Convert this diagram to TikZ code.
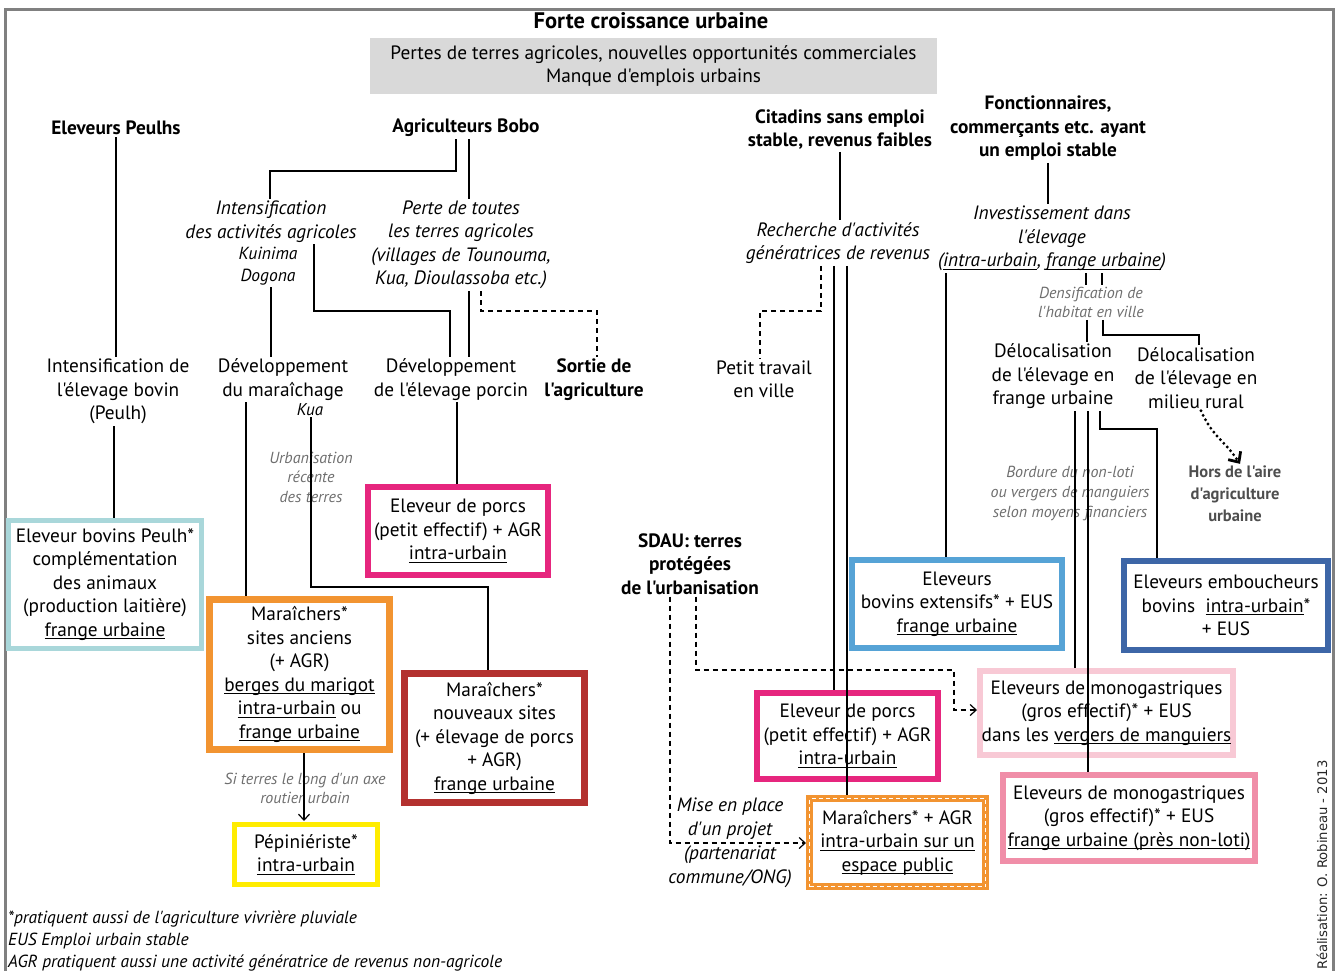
\documentclass[tikz,border=0pt]{standalone}
\usepackage{fontspec}
\defaultfontfeatures[\rmfamily]{}
\setmainfont{PT Sans}
\newfontfamily\credfont{DejaVu Sans}
\usetikzlibrary{arrows.meta,calc}
\definecolor{framegray}{HTML}{808080}
\definecolor{boxgray}{HTML}{D9D9D9}
\definecolor{notegray}{HTML}{6E6E6E}
\definecolor{horsgray}{HTML}{4E4E4E}
\definecolor{cteal}{HTML}{A9D7DA}
\definecolor{cmag}{HTML}{E6267E}
\definecolor{corange}{HTML}{F29431}
\definecolor{cdred}{HTML}{B3312F}
\definecolor{cyel}{HTML}{FFEC00}
\definecolor{clblue}{HTML}{56A3D6}
\definecolor{cdblue}{HTML}{3D66A7}
\definecolor{clpink}{HTML}{F8C9D5}
\definecolor{cpink}{HTML}{F08EA8}
\newcommand{\myul}[1]{\leavevmode\setbox0\hbox{#1}\rlap{\rule[-2.8pt]{\wd0}{0.9pt}}\box0\relax}
\tikzset{
  tx/.style={align=center, inner sep=2pt, font=\fontsize{19.3}{23.5}\selectfont},
  tb/.style={tx, font=\fontsize{19.3}{23.5}\selectfont\bfseries},
  ti/.style={tx, font=\fontsize{19.3}{23.5}\selectfont\itshape},
  tn/.style={tx, text=notegray, font=\fontsize{16}{19.5}\selectfont\itshape},
  bx/.style={draw, align=center, inner sep=0pt, line width=6pt, font=\fontsize{19.3}{23.5}\selectfont},
  ln/.style={line width=1.2pt},
  dln/.style={ln, dash pattern=on 5pt off 4pt},
  barb/.style={-{Straight Barb[length=6pt,width=11pt,line width=1.2pt]}}
}
\begin{document}
\begin{tikzpicture}[x=1pt,y=-1pt]
\useasboundingbox (0,0) rectangle (1336,970);
% frame
\draw[framegray, line width=3pt] (5,975) -- (5,9) -- (1333,9) -- (1333,975);

% top
\node[tx, font=\fontsize{22.5}{26}\selectfont\bfseries] (title) at (651,21) {Forte croissance urbaine};
\node[tx, fill=boxgray, minimum width=567, minimum height=56] (gbox) at (653.5,66) {Pertes de terres agricoles, nouvelles opportunités commerciales\\Manque d'emplois urbains};

% headers
\node[tb] (peulhs) at (116,128) {Eleveurs Peulhs};
\node[tb] (bobo) at (466,128) {Agriculteurs Bobo};
\node[tb] (citadins) at (840,129.5) {Citadins sans emploi\\stable, revenus faibles};
\node[tb] (fonct) at (1048,128.5) {Fonctionnaires,\\commerçants etc. ayant\\un emploi stable};

% second level
\node[ti] (intens) at (271,221.5) {Intensification\\des activités agricoles};
\node[ti, font=\fontsize{17.5}{22}\selectfont\itshape] (kuinima) at (268,266) {Kuinima\\Dogona};
\node[ti] (perte) at (461,245) {Perte de toutes\\les terres agricoles\\(villages de Tounouma,\\Kua, Dioulassoba etc.)};
\node[ti] (recherche) at (838,243) {Recherche d'activités\\génératrices de revenus};
\node[ti] (invest) at (1052,238.5) {Investissement dans\\l'élevage\\(\myul{intra-urbain}, \myul{frange urbaine})};
\node[tn, font=\fontsize{16}{19}\selectfont\itshape] (densif) at (1091,302.5) {Densification de\\l'habitat en ville};

% third level
\node[tx] (intbov) at (118,391.5) {Intensification de\\l'élevage bovin\\(Peulh)};
\node[tx] (devmar) at (283,379.5) {Développement\\du maraîchage};
\node[ti, font=\fontsize{17}{20}\selectfont\itshape, inner sep=1pt] (kua) at (310,410) {Kua};
\node[tx] (devpor) at (451,379.5) {Développement\\de l'élevage porcin};
\node[tb] (sortie) at (594,379.5) {Sortie de\\l'agriculture};
\node[tx] (petit) at (764,379.5) {Petit travail\\en ville};
\node[tx] (deloc1) at (1053,376.5) {Délocalisation\\de l'élevage en\\frange urbaine};
\node[tx] (deloc2) at (1196,378) {Délocalisation\\de l'élevage en\\milieu rural};
\node[tb, text=horsgray, font=\fontsize{16.5}{22}\selectfont\bfseries] (hors) at (1235,494) {Hors de l'aire\\d'agriculture\\urbaine};

% notes
\node[tn] (urbanis) at (311,477) {Urbanisation\\récente\\des terres};
\node[tn] (siterres) at (305,788.5) {Si terres le long d'un axe\\routier urbain};
\node[tn, font=\fontsize{16}{20}\selectfont\itshape] (bordure) at (1070,493) {Bordure du non-loti\\ou vergers de manguiers\\selon moyens financiers};
\node[tb] (sdau) at (690,564) {SDAU: terres\\protégées\\de l'urbanisation};
\node[ti, font=\fontsize{19.3}{24}\selectfont\itshape] (mise) at (730,843) {Mise en place\\d'un projet\\(partenariat\\commune/ONG)};

% boxes
\node[bx, draw=cteal, line width=5pt, minimum width=193, minimum height=128] (bpeulh) at (105,584.5) {Eleveur bovins Peulh*\\complémentation\\des animaux\\(production laitière)\\\myul{frange urbaine}};
\node[bx, draw=cmag, minimum width=180, minimum height=88] (porcL) at (458,531) {Eleveur de porcs\\(petit effectif) + AGR\\\myul{intra-urbain}};
\node[bx, draw=corange, line width=7pt, minimum width=180, minimum height=150] (maranc) at (299.5,674.5) {Maraîchers*\\sites anciens\\(+ AGR)\\\myul{berges du marigot}\\\myul{intra-urbain} ou\\\myul{frange urbaine}};
\node[bx, draw=cdred, line width=7pt, minimum width=180, minimum height=129] (marnouv) at (494.5,738) {Maraîchers*\\nouveaux sites\\(+ élevage de porcs\\+ AGR)\\\myul{frange urbaine}};
\node[bx, draw=cyel, line width=5pt, minimum width=143, minimum height=60] (pepi) at (306,854.5) {Pépiniériste*\\\myul{intra-urbain}};
\node[bx, draw=clblue, minimum width=210, minimum height=88] (bext) at (957,604) {Eleveurs\\bovins extensifs* + EUS\\\myul{frange urbaine}};
\node[bx, draw=cdblue, minimum width=204, minimum height=89] (bemb) at (1226,605.5) {Eleveurs emboucheurs\\bovins \ \myul{intra-urbain}*\\+ EUS};
\node[bx, draw=cmag, minimum width=181, minimum height=86] (porcR) at (847.5,736) {Eleveur de porcs\\(petit effectif) + AGR\\\myul{intra-urbain}};
\node[bx, draw=clpink, minimum width=253, minimum height=84] (monoV) at (1106.5,713) {Eleveurs de monogastriques\\(gros effectif)* + EUS\\dans les \myul{vergers de manguiers}};
\node[bx, draw=cpink, minimum width=252, minimum height=86] (monoF) at (1129,818) {Eleveurs de monogastriques\\(gros effectif)* + EUS\\\myul{frange urbaine (près non-loti)}};
\node[bx, draw=corange, line width=7pt, minimum width=176, minimum height=88,
  postaction={draw=white, line width=1.6pt, dash pattern=on 4pt off 3pt}] (mpub) at (897.5,842.5) {Maraîchers* + AGR\\\myul{intra-urbain sur un}\\\myul{espace public}};

% connectors left
\draw[ln] (peulhs.south -| 116,0) -- (intbov.north -| 116,0);
\draw[ln] (intbov.south -| 114,0) -- (bpeulh.north -| 114,0);
\draw[ln] (bobo.south -| 456,0) -- (456,171) -| (intens.north -| 270,0);
\draw[ln] (bobo.south -| 469,0) -- (perte.north -| 469,0);
\draw[ln] (intens.south -| 314,0) -- (314,311) -| (devpor.north -| 450,0);
\draw[ln] (kuinima.south -| 271,0) -- (devmar.north -| 271,0);
\draw[ln] (perte.south -| 469,0) -- (devpor.north -| 469,0);
\draw[dln] (perte.south -| 481,0) -- (481,311) -| (sortie.north -| 597,0);
\draw[ln] (devmar.south -| 246,0) -- (maranc.north -| 246,0);
\draw[ln] (kua.south -| 311,0) -- (311,587) -| (marnouv.north -| 488,0);
\draw[ln] (devpor.south -| 457,0) -- (porcL.north -| 457,0);
\draw[ln, barb] (maranc.south -| 304,0) -- ([yshift=1pt]pepi.north -| 304,0);

% connectors right
\draw[ln] (citadins.south -| 840,0) -- (recherche.north -| 840,0);
\draw[dln] (recherche.south -| 821,0) -- (821,311) -| (petit.north -| 760,0);
\draw[ln] (recherche.south -| 834,0) -- (porcR.north -| 834,0);
\draw[ln] (recherche.south -| 847,0) -- (mpub.north -| 847,0);
\draw[ln] (fonct.south -| 1048,0) -- (invest.north -| 1048,0);
\draw[ln] (invest.south -| 946,0) -- (bext.north -| 946,0);
\draw[ln] (invest.south -| 1086,0) -- (densif.north -| 1086,0);
\draw[ln] (invest.south -| 1102,0) -- (densif.north -| 1102,0);
\draw[ln] (densif.south -| 1087,0) -- (deloc1.north -| 1087,0);
\draw[ln] (densif.south -| 1103,0) -- (1103,335) -| (deloc2.north -| 1199,0);
\draw[ln] (deloc1.south -| 1075,0) -- (monoV.north -| 1075,0);
\draw[ln] (deloc1.south -| 1088,0) -- (monoF.north -| 1088,0);
\draw[ln] (deloc1.south -| 1100,0) -- (1100,429) -| (bemb.north -| 1157,0);
\draw[line width=3.2pt, dash pattern=on 0pt off 5pt, line cap=round, -{Straight Barb[length=8pt,width=15pt,line width=2.8pt]}]
  (deloc2.south -| 1201,0) .. controls (1212,436) and (1224,440) .. ([xshift=5pt]hors.north);
\draw[dln, barb] (sdau.south -| 696,0) -- (696,670) -- (954,670) -- (954,710) -- (monoV.west |- 0,710);
\draw[dln, barb] (sdau.south -| 670,0) -- (670,843) -- (mpub.west |- 0,843);

% footnotes
\node[ti, anchor=west, font=\fontsize{17.5}{20}\selectfont\itshape] (fn1) at (6,919) {*pratiquent aussi de l'agriculture vivrière pluviale};
\node[ti, anchor=west, font=\fontsize{17.5}{20}\selectfont\itshape] (fn2) at (6,941) {EUS Emploi urbain stable};
\node[ti, anchor=west, font=\fontsize{17.5}{20}\selectfont\itshape] (fn3) at (6,963) {AGR pratiquent aussi une activité génératrice de revenus non-agricole};
\node[rotate=90, text=black!85, font=\credfont\fontsize{13.2}{15}\selectfont] (cred) at (1322,865) {Réalisation: O. Robineau - 2013};
\end{tikzpicture}
\end{document}
